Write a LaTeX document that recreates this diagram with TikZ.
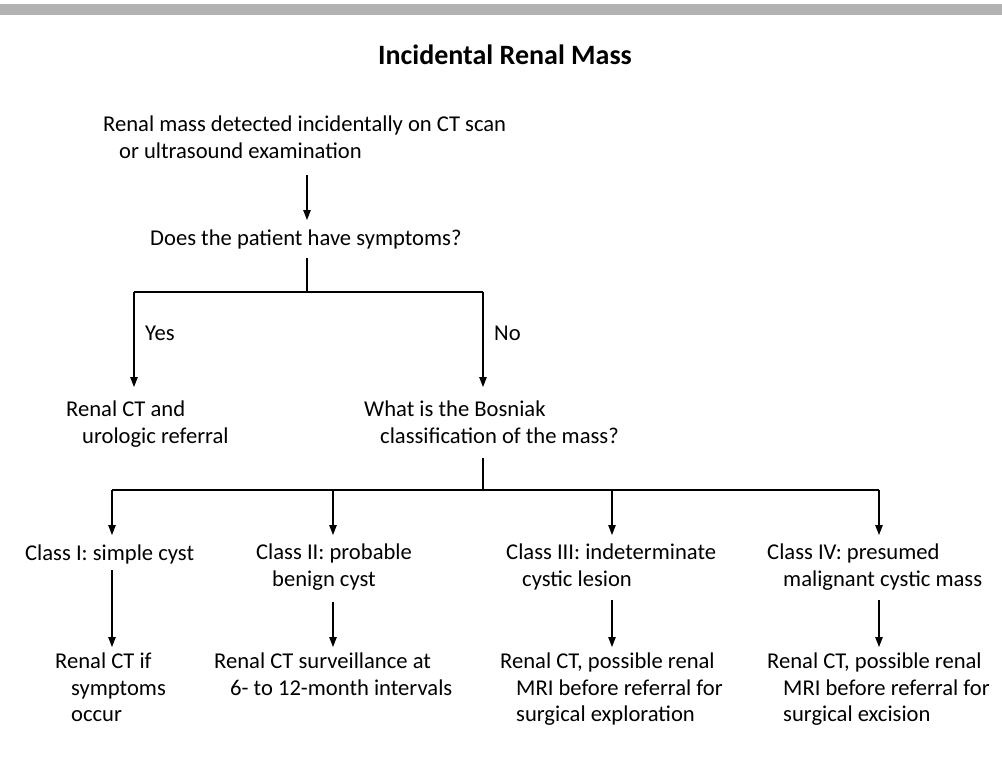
\documentclass[tikz,border=0pt]{standalone}
\usepackage{fontspec}
\setmainfont{Carlito}
\usetikzlibrary{arrows.meta}
\newcommand{\ind}{\\\hspace*{16pt}}
\tikzset{
  txt/.style={anchor=north west, inner sep=0pt, align=left,
    font=\fontsize{22.6}{26.5}\selectfont,
    execute at begin node=\rule{0pt}{16pt},
    execute at end node=\rule[-5pt]{0pt}{5pt}},
  heading/.style={inner sep=0pt, font=\fontsize{28}{32}\selectfont\bfseries},
  ln/.style={line width=1.2pt},
  lnthick/.style={line width=2.2pt},
  arr/.style={line width=1.2pt, -{Triangle[width=7.5pt,length=10pt]}},
}

\begin{document}
\begin{tikzpicture}[x=1pt, y=-1pt]
  %%%%% START %%%%%
  \useasboundingbox (0,0) rectangle (1002,771);
  \fill[black!30] (0,4) rectangle (1002,15);

  \node[heading] (title) at (505,55) {Incidental Renal Mass};

  % first question
  \node[txt] (mass) at (103,116) {Renal mass detected incidentally on CT scan\ind or ultrasound examination};
  \node[txt] (symp) at (150,229) {Does the patient have symptoms?};

  \coordinate (colA) at (307,292);
  \coordinate (yesA) at (134,292);
  \coordinate (noA) at (483,292);

  \draw[arr, shorten <=11.5pt, shorten >=9pt] (mass.south -| colA) -- (symp.north -| colA);
  \draw[ln, shorten <=8pt] (symp.south -| colA) -- (colA);
  \draw[ln] (yesA) -- (noA);
  \draw[lnthick] (156,292) -- (439,292);

  \node[txt] (yes) at (145,324) {Yes};
  \node[txt] (no) at (494,324) {No};

  \node[txt] (ctref) at (66,401) {Renal CT and\ind urologic referral};
  \node[txt] (bosn) at (364,401) {What is the Bosniak\ind classification of the mass?};

  \draw[arr, shorten >=14pt] (yesA) -- (yesA |- ctref.north);
  \draw[arr, shorten >=14pt] (noA) -- (noA |- bosn.north);

  % Bosniak classes
  \coordinate (colB) at (483,490);
  \coordinate (cl1) at (112,490);
  \coordinate (cl2) at (333,490);
  \coordinate (cl3) at (612,490);
  \coordinate (cl4) at (879,490);

  \draw[ln, shorten <=9.5pt] (bosn.south -| colB) -- (colB);
  \draw[ln] (cl1) -- (cl4);
  \draw[lnthick] (379,490) -- (600,490);

  \node[txt] (class1) at (25,544) {Class I: simple cyst};
  \node[txt] (class2) at (256,544) {Class II: probable\ind benign cyst};
  \node[txt] (class3) at (506,544) {Class III: indeterminate\ind cystic lesion};
  \node[txt] (class4) at (767,544) {Class IV: presumed\ind malignant cystic mass};

  \foreach \i in {1,...,4}
    \draw[arr, shorten >=9pt] (cl\i) -- (cl\i |- class\i.north);

  \node[txt] (care1) at (55,653) {Renal CT if\ind symptoms\ind occur};
  \node[txt] (care2) at (214,653) {Renal CT surveillance at\ind 6- to 12-month intervals};
  \node[txt] (care3) at (500,653) {Renal CT, possible renal\ind MRI before referral for\ind surgical exploration};
  \node[txt] (care4) at (767,653) {Renal CT, possible renal\ind MRI before referral for\ind surgical excision};

  \draw[arr, shorten <=5pt, shorten >=6pt] (class1.south -| cl1) -- (care1.north -| cl1);
  \draw[arr, shorten <=10.5pt, shorten >=6pt] (class2.south -| cl2) -- (care2.north -| cl2);
  \draw[arr, shorten <=8.5pt, shorten >=6pt] (class3.south -| cl3) -- (care3.north -| cl3);
  \draw[arr, shorten <=8.5pt, shorten >=6pt] (class4.south -| cl4) -- (care4.north -| cl4);
  %%%%% END %%%%%
\end{tikzpicture}
\end{document}
